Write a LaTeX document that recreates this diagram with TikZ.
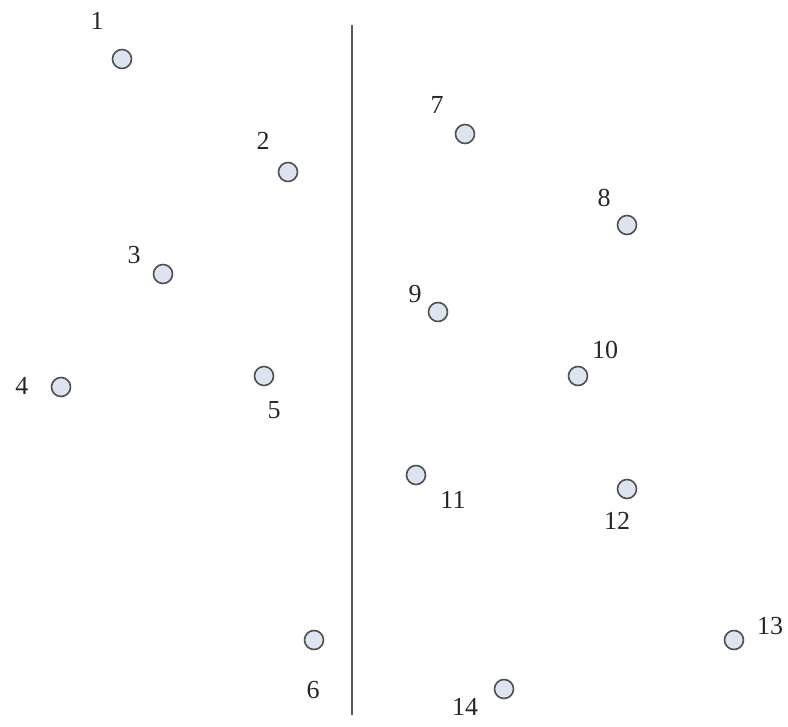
\documentclass[tikz,border=0pt]{standalone}
\usepackage{fontspec}
\setmainfont{Liberation Serif}
\definecolor{dotfill}{HTML}{DDE4F0}
\definecolor{dotline}{HTML}{505050}
\tikzset{
  dot/.style={circle, draw=dotline, line width=1.6pt, fill=dotfill, minimum size=19pt, inner sep=0pt},
  lab/.style={font=\fontsize{26}{28}\selectfont, inner sep=0pt, text=black!85}
}
\begin{document}
\begin{tikzpicture}[x=1pt,y=-1pt]
\useasboundingbox (0,0) rectangle (788,727);
\coordinate (top) at (352,25);
\coordinate (bot) at (352,715);
\draw[line width=2.6pt, draw=black!65] (top) -- (bot);
\node[dot] (n1) at (122,59) {};
\node[dot] (n2) at (288,172) {};
\node[dot] (n3) at (163,274) {};
\node[dot] (n4) at (61,387) {};
\node[dot] (n5) at (264,376) {};
\node[dot] (n6) at (314,640) {};
\node[dot] (n7) at (465,134) {};
\node[dot] (n8) at (627,225) {};
\node[dot] (n9) at (438,312) {};
\node[dot] (n10) at (578,376) {};
\node[dot] (n11) at (416,475) {};
\node[dot] (n12) at (627,489) {};
\node[dot] (n13) at (734,640) {};
\node[dot] (n14) at (504,689) {};
\node[lab] (l1) at (97,21) {1};
\node[lab] (l2) at (263,141) {2};
\node[lab] (l3) at (134,255) {3};
\node[lab] (l4) at (22,386) {4};
\node[lab] (l5) at (274,410) {5};
\node[lab] (l6) at (313,690) {6};
\node[lab] (l7) at (437,105) {7};
\node[lab] (l8) at (604,198) {8};
\node[lab] (l9) at (415,294) {9};
\node[lab] (l10) at (605,350) {10};
\node[lab] (l11) at (453,500) {11};
\node[lab] (l12) at (617,521) {12};
\node[lab] (l13) at (770,626) {13};
\node[lab] (l14) at (465,707) {14};
\end{tikzpicture}
\end{document}
